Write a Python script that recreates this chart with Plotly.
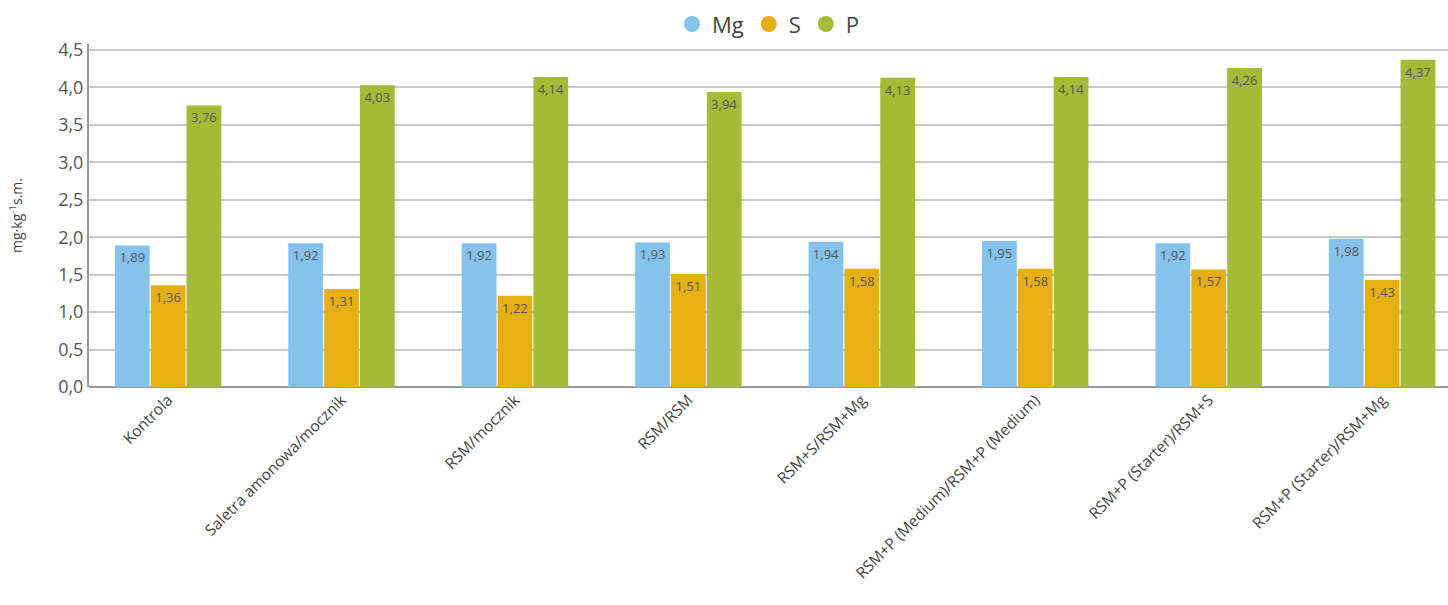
import plotly.graph_objects as go

categories = ["Kontrola", "Saletra amonowa/mocznik", "RSM/mocznik", "RSM/RSM",
              "RSM+S/RSM+Mg", "RSM+P (Medium)/RSM+P (Medium)",
              "RSM+P (Starter)/RSM+S", "RSM+P (Starter)/RSM+Mg"]
mg = [1.89, 1.92, 1.92, 1.93, 1.94, 1.95, 1.92, 1.98]
s = [1.36, 1.31, 1.22, 1.51, 1.58, 1.58, 1.57, 1.43]
p = [3.76, 4.03, 4.14, 3.94, 4.13, 4.14, 4.26, 4.37]
series_names = ["Mg", "S", "P"]
colors = ["#85C3EC", "#E6AF14", "#A5BA37"]
y_ticks = [0, 0.5, 1.0, 1.5, 2.0, 2.5, 3.0, 3.5, 4.0, 4.5]

FONT = "Open Sans"
fig = go.Figure()
x_idx = list(range(len(categories)))
for name, vals, col in zip(series_names, [mg, s, p], colors):
    fig.add_trace(go.Bar(
        x=x_idx, y=vals, name=name, marker=dict(color=col, line=dict(width=0)),
        text=[f"{v:.2f}".replace(".", ",") for v in vals],
        textposition="inside", insidetextanchor="end", textangle=0,
        textfont=dict(color="#555555", size=13, family=FONT),
        showlegend=False, hoverinfo="skip"))
for name, col in zip(series_names, colors):
    fig.add_trace(go.Scatter(
        x=[None], y=[None], mode="markers", name=name,
        marker=dict(symbol="circle", size=26, color=col), showlegend=True))

fig.update_layout(
    width=1448, height=605,
    margin=dict(l=89, r=0, t=44, b=218, autoexpand=False),
    paper_bgcolor="white", plot_bgcolor="white",
    barmode="group", bargap=0.38, bargroupgap=0.03,
    separators=",.",
    font=dict(family=FONT, color="#444444"),
    legend=dict(orientation="h", x=0.5, xanchor="center", y=0.96, yanchor="middle",
                yref="container",
                font=dict(size=22, color="#444444"), itemsizing="trace",
                traceorder="normal", itemwidth=30),
    xaxis=dict(tickmode="array", tickvals=x_idx, ticktext=categories,
               tickangle=-45, tickfont=dict(size=15.5, color="#444444"),
               range=[-0.456, 7.38], showgrid=False, showline=False,
               ticks="", zeroline=False, automargin=False),
    yaxis=dict(range=[0, 4.58], tickmode="array", tickvals=y_ticks,
               tickformat=".1f", tickfont=dict(size=18, color="#555555"),
               showgrid=True, gridcolor="#c8c8c8", gridwidth=2,
               showline=True, linecolor="#9a9a9a", linewidth=2,
               zeroline=True, zerolinecolor="#9a9a9a", zerolinewidth=2,
               ticks="", automargin=False,
               title=dict(text="mg·kg<sup>-1</sup>s.m.",
                          font=dict(size=14, color="#444444"), standoff=32)),
)
fig.write_html("out.html")
